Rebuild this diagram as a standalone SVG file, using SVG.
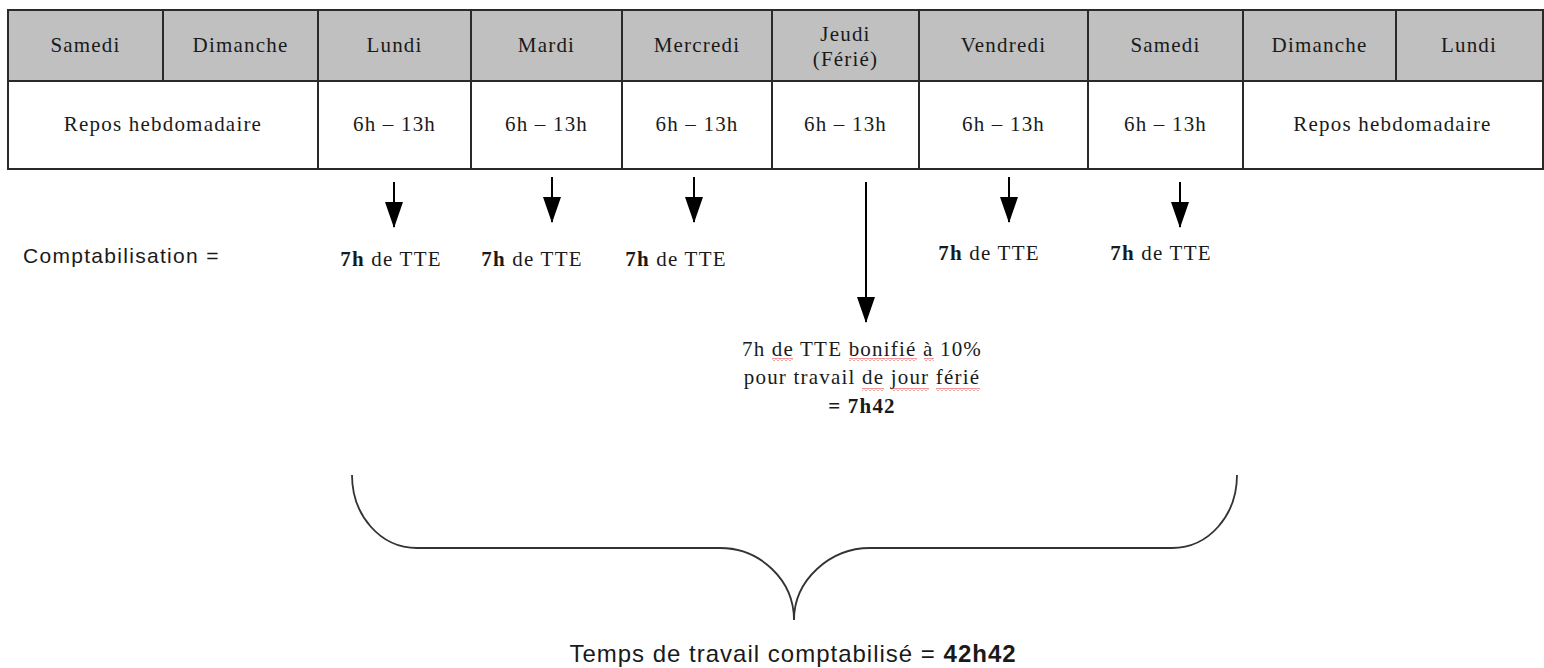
<svg xmlns="http://www.w3.org/2000/svg" width="1544" height="668" viewBox="0 0 1544 668">
<style>
  .serif { font-family: "Liberation Serif", "Times New Roman", serif; font-size: 21px; fill: #1a1a1a; letter-spacing: 1.2px; }
  .sans { font-family: "Liberation Sans", Arial, sans-serif; fill: #1a1a1a; }
  .c { text-anchor: middle; }
  .b { font-weight: bold; }
  .grid { stroke: #2a2a2a; stroke-width: 2; fill: none; }
  .arrow { stroke: #000; stroke-width: 2; fill: none; marker-end: url(#head); }
  .brace { stroke: #333; stroke-width: 1.8; fill: none; }
</style>
<defs>
  <marker id="head" markerUnits="userSpaceOnUse" markerWidth="26" markerHeight="18" refX="25" refY="9" orient="auto" viewBox="0 0 26 18">
    <path d="M0,0 L26,9 L0,18 Z" fill="#000"/>
  </marker>
  <pattern id="wave" width="4" height="3" patternUnits="userSpaceOnUse">
    <path d="M0,2.5 L2,0.5 L4,2.5" stroke="#e02020" stroke-width="0.9" fill="none"/>
  </pattern>
</defs>
<rect width="1544" height="668" fill="#fff"/>

<g id="table">
  <rect x="8" y="10" width="1535" height="71" fill="#c0c0c0"/>
  <rect x="8" y="81" width="1535" height="88" fill="#fff"/>
  <rect class="grid" x="8" y="10" width="1535" height="159"/>
  <line class="grid" x1="8" y1="81" x2="1543" y2="81"/>
  <line class="grid" x1="163" y1="10" x2="163" y2="81"/>
  <line class="grid" x1="318" y1="10" x2="318" y2="169"/>
  <line class="grid" x1="471" y1="10" x2="471" y2="169"/>
  <line class="grid" x1="622" y1="10" x2="622" y2="169"/>
  <line class="grid" x1="772" y1="10" x2="772" y2="169"/>
  <line class="grid" x1="919" y1="10" x2="919" y2="169"/>
  <line class="grid" x1="1088" y1="10" x2="1088" y2="169"/>
  <line class="grid" x1="1243" y1="10" x2="1243" y2="169"/>
  <line class="grid" x1="1396" y1="10" x2="1396" y2="81"/>

  <text class="serif c" x="85.5" y="52">Samedi</text>
  <text class="serif c" x="240.5" y="52">Dimanche</text>
  <text class="serif c" x="394.5" y="52">Lundi</text>
  <text class="serif c" x="546.5" y="52">Mardi</text>
  <text class="serif c" x="697" y="52">Mercredi</text>
  <text class="serif c" x="845.5" y="41">Jeudi</text>
  <text class="serif c" x="845.5" y="66">(Férié)</text>
  <text class="serif c" x="1003.5" y="52">Vendredi</text>
  <text class="serif c" x="1165.5" y="52">Samedi</text>
  <text class="serif c" x="1319.5" y="52">Dimanche</text>
  <text class="serif c" x="1469" y="52">Lundi</text>

  <text class="serif c" x="163" y="131">Repos hebdomadaire</text>
  <text class="serif c" x="394.5" y="131">6h – 13h</text>
  <text class="serif c" x="546.5" y="131">6h – 13h</text>
  <text class="serif c" x="697" y="131">6h – 13h</text>
  <text class="serif c" x="845.5" y="131">6h – 13h</text>
  <text class="serif c" x="1003.5" y="131">6h – 13h</text>
  <text class="serif c" x="1165.5" y="131">6h – 13h</text>
  <text class="serif c" x="1392.5" y="131">Repos hebdomadaire</text>
</g>

<g id="connectors">
  <line class="arrow" x1="394" y1="182" x2="394" y2="227"/>
  <line class="arrow" x1="552" y1="177" x2="552" y2="222"/>
  <line class="arrow" x1="694" y1="177" x2="694" y2="222"/>
  <line class="arrow" x1="866" y1="182" x2="866" y2="322"/>
  <line class="arrow" x1="1009" y1="177" x2="1009" y2="222"/>
  <line class="arrow" x1="1180" y1="182" x2="1180" y2="227"/>
</g>

<g id="label-comptabilisation">
  <text class="sans" x="23" y="263" font-size="21" letter-spacing="1.3">Comptabilisation =</text>
</g>

<g id="tte-lundi"><text class="serif c" x="391" y="266"><tspan class="b">7h</tspan> de TTE</text></g>
<g id="tte-mardi"><text class="serif c" x="532" y="266"><tspan class="b">7h</tspan> de TTE</text></g>
<g id="tte-mercredi"><text class="serif c" x="676" y="266"><tspan class="b">7h</tspan> de TTE</text></g>
<g id="tte-vendredi"><text class="serif c" x="989" y="260"><tspan class="b">7h</tspan> de TTE</text></g>
<g id="tte-samedi"><text class="serif c" x="1161" y="260"><tspan class="b">7h</tspan> de TTE</text></g>

<g id="tte-jeudi">
  <text class="serif c" x="862" y="356">7h de TTE bonifié à 10%</text>
  <text class="serif c" x="862" y="384">pour travail de jour férié</text>
  <text class="serif c b" x="862" y="413">= 7h42</text>
  <rect x="772" y="358" width="21" height="3" fill="url(#wave)"/>
  <rect x="849" y="358" width="68" height="3" fill="url(#wave)"/>
  <rect x="924" y="358" width="10" height="3" fill="url(#wave)"/>
  <rect x="862" y="388" width="22" height="3" fill="url(#wave)"/>
  <rect x="891" y="388" width="38" height="3" fill="url(#wave)"/>
  <rect x="936" y="388" width="44" height="3" fill="url(#wave)"/>
</g>

<g id="brace">
  <path class="brace" d="M352,475 C352,515 380,548 417,548 L720,548 C760,548 794,580 794,620"/>
  <path class="brace" d="M1237,475 C1237,515 1209,548 1172,548 L870,548 C830,548 794,580 794,620"/>
</g>

<g id="total">
  <text class="sans c" x="793" y="662" font-size="24" letter-spacing="1">Temps de travail comptabilisé = <tspan class="b">42h42</tspan></text>
</g>
</svg>
